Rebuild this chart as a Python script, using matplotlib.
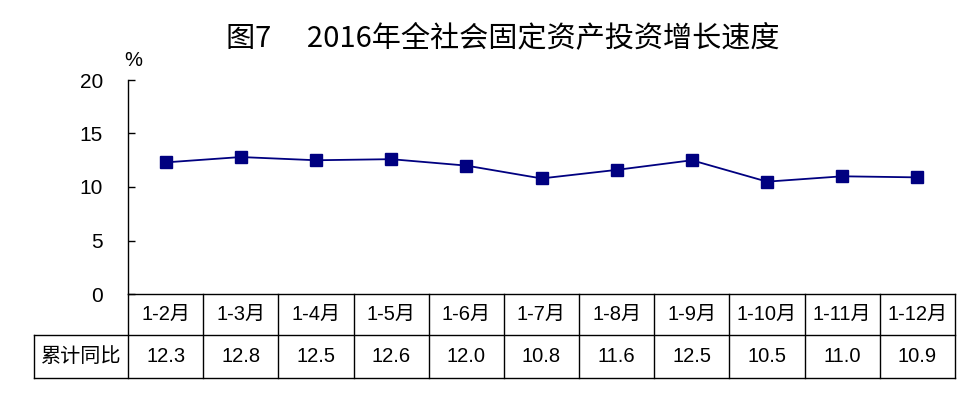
import matplotlib.pyplot as plt
from matplotlib.transforms import blended_transform_factory

plt.rcParams['font.family'] = ['Liberation Sans', 'Noto Sans CJK SC', 'DejaVu Sans']

# =========================
# Data
# =========================
months = ["1-2月", "1-3月", "1-4月", "1-5月", "1-6月", "1-7月",
          "1-8月", "1-9月", "1-10月", "1-11月", "1-12月"]
growth = [12.3, 12.8, 12.5, 12.6, 12.0, 10.8, 11.6, 12.5, 10.5, 11.0, 10.9]
row_label = "累计同比"
title = "图7\u3000 2016年全社会固定资产投资增长速度"

# =========================
# Figure
# =========================
W, H = 975, 393
fig = plt.figure(figsize=(W / 100, H / 100), dpi=100)
left, right, top, bottom = 128, 955, 80, 294
ax = fig.add_axes([left / W, 1 - bottom / H, (right - left) / W, (bottom - top) / H])

n = len(months)
xs = [i + 0.5 for i in range(n)]
ax.plot(xs, growth, color="#000080", lw=1.3, marker="s", ms=8,
        mec="#000080", mfc="#000080")

ax.set_xlim(0, n)
ax.set_ylim(0, 20)
ax.set_yticks([0, 5, 10, 15, 20])
ax.set_xticks([])
ax.tick_params(axis="y", direction="in", length=5, width=1, labelsize=15, pad=18)
for s in ["top", "right"]:
    ax.spines[s].set_visible(False)
ax.spines["left"].set_linewidth(1)
ax.spines["bottom"].set_linewidth(1)

ax.text(-0.05, 20.9, "%", fontsize=14.5, ha="left", va="bottom", transform=ax.transData)

# =========================
# Table under the axis
# =========================
tr = blended_transform_factory(ax.transData, ax.transAxes)
ph = bottom - top
r1 = -41 / ph
r2 = -84 / ph
x0 = (34 - left) / ((right - left) / n)

line_kw = dict(color="black", lw=1, transform=tr, clip_on=False)
ax.plot([x0, n], [r1, r1], **line_kw)
ax.plot([x0, n], [r2, r2], **line_kw)
ax.plot([x0, x0], [r1, r2], **line_kw)
for i in range(n + 1):
    ax.plot([i, i], [0, r2], **line_kw)

for i in range(n):
    ax.text(i + 0.5, r1 / 2, months[i], ha="center", va="center",
            fontsize=14.5, transform=tr)
    ax.text(i + 0.5, (r1 + r2) / 2, f"{growth[i]:.1f}", ha="center", va="center",
            fontsize=14.5, transform=tr)
ax.text(x0 / 2, (r1 + r2) / 2, row_label, ha="center", va="center",
        fontsize=14.5, transform=tr)

fig.text(503 / W, 1 - 38 / H, title, ha="center", va="center", fontsize=21,
         family=['Noto Sans CJK SC', 'DejaVu Sans'])

plt.savefig("out.png", dpi=100)
